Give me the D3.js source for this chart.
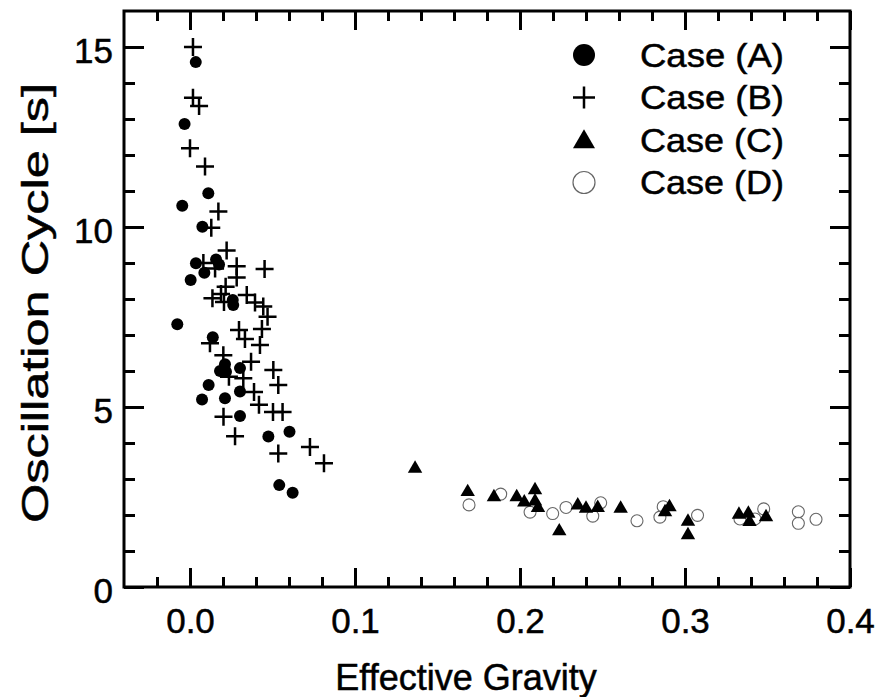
<!DOCTYPE html>
<html>
<head>
<meta charset="utf-8">
<script src="https://cdn.jsdelivr.net/npm/d3@7"></script>
<style>
body { margin: 0; background: #fff; }
text { font-family: "Liberation Sans", Arial, sans-serif; fill: #000; stroke: #000; stroke-width: 0.5px; }
</style>
</head>
<body>
<svg width="878" height="697"></svg>
<script>
var caseAx = [0.0035, -0.0033, 0.0111, -0.0047, 0.0075, 0.0036, 0.0158, 0.0176, 0.0087, 0.0004, 0.0259, 0.0262, -0.0077, 0.0138, 0.0212, 0.0182, 0.0218, 0.0303, 0.0113, 0.0073, 0.0212, 0.0303, 0.0303, 0.0475, 0.0603, 0.0541, 0.0622];
var caseAy = [14.58, 12.86, 10.94, 10.59, 10.01, 8.99, 9.10, 8.96, 8.73, 8.53, 7.97, 7.83, 7.30, 6.94, 6.19, 6.00, 5.98, 6.08, 5.61, 5.21, 5.24, 5.43, 4.75, 4.18, 4.31, 2.83, 2.62];

var caseBx = [0.0018, 0.0018, 0.0055, 0.0, 0.0091, 0.0172, 0.0129, 0.0222, 0.0081, 0.0152, 0.0283, 0.0283, 0.0452, 0.0216, 0.0136, 0.0188, 0.0206, 0.0344, 0.0394, 0.0444, 0.0470, 0.0297, 0.0333, 0.0436, 0.0424, 0.0121, 0.0202, 0.0370, 0.0505, 0.0236, 0.0323, 0.0535, 0.0388, 0.0418, 0.0503, 0.0561, 0.0203, 0.0273, 0.0535, 0.0727, 0.0812];
var caseBy = [15.0, 13.59, 13.36, 12.19, 11.68, 10.43, 9.98, 9.35, 9.0, 8.85, 8.91, 8.60, 8.83, 8.34, 8.02, 8.14, 7.92, 8.11, 7.90, 7.79, 7.51, 7.14, 6.89, 7.17, 6.72, 6.77, 6.44, 6.26, 6.03, 5.84, 5.80, 5.61, 5.42, 5.06, 4.86, 4.86, 4.73, 4.19, 3.71, 3.89, 3.44];

var caseCx = [0.1364, 0.1683, 0.1842, 0.1980, 0.2026, 0.2091, 0.2091, 0.2109, 0.2238, 0.2350, 0.2400, 0.2471, 0.2610, 0.2879, 0.2906, 0.3018, 0.3018, 0.3327, 0.3384, 0.3391, 0.3491];
var caseCy = [3.29, 2.64, 2.50, 2.50, 2.35, 2.69, 2.38, 2.20, 1.55, 2.27, 2.18, 2.20, 2.18, 2.08, 2.22, 1.82, 1.44, 2.01, 2.04, 1.81, 1.94];

var caseDx = [0.1691, 0.1883, 0.2061, 0.2198, 0.2279, 0.2441, 0.2489, 0.2709, 0.2848, 0.2868, 0.3076, 0.3333, 0.3424, 0.3477, 0.3687, 0.3687, 0.3794];
var caseDy = [2.28, 2.58, 2.08, 2.04, 2.21, 1.97, 2.34, 1.84, 1.94, 2.23, 1.99, 1.89, 1.89, 2.17, 2.09, 1.77, 1.88];

var legendLabels = ['Case (A)', 'Case (B)', 'Case (C)', 'Case (D)'];
var xMajor = [0, 0.1, 0.2, 0.3, 0.4];
var xMinor = [-0.02, 0.02, 0.04, 0.06, 0.08, 0.12, 0.14, 0.16, 0.18, 0.22, 0.24, 0.26, 0.28, 0.32, 0.34, 0.36, 0.38];
var yMajor = [0, 5, 10, 15];
var yMinor = [1, 2, 3, 4, 6, 7, 8, 9, 11, 12, 13, 14];

var mLeft = 124, mRight = 850, mTop = 11, mBottom = 587;
var svg = d3.select('svg');

var x = d3.scaleLinear().domain([-0.04, 0.4]).range([mLeft, mRight]);
var y = d3.scaleLinear().domain([0, 16]).range([mBottom, mTop]);

function zip(xs, ys) {
    return xs.map(function (v, i) { return { x: v, y: ys[i] }; });
}

function styleAxis(g) {
    g.select('.domain').remove();
    g.selectAll('line').attr('stroke', '#000').attr('stroke-width', 3);
    g.selectAll('text').style('font-size', '35px').style('font-family', '"Liberation Sans", Arial, sans-serif');
}

// bottom / top
svg.append('g').attr('transform', 'translate(0,' + mBottom + ')')
    .call(d3.axisBottom(x).tickValues(xMajor).tickSizeInner(-19).tickSizeOuter(0).tickPadding(21)
        .tickFormat(d3.format('.1f')))
    .call(styleAxis);
svg.append('g').attr('transform', 'translate(0,' + mBottom + ')')
    .call(d3.axisBottom(x).tickValues(xMinor).tickSizeInner(-10).tickSizeOuter(0).tickFormat(''))
    .call(styleAxis);
svg.append('g').attr('transform', 'translate(0,' + mTop + ')')
    .call(d3.axisTop(x).tickValues(xMajor).tickSizeInner(-19).tickSizeOuter(0).tickFormat(''))
    .call(styleAxis);
svg.append('g').attr('transform', 'translate(0,' + mTop + ')')
    .call(d3.axisTop(x).tickValues(xMinor).tickSizeInner(-10).tickSizeOuter(0).tickFormat(''))
    .call(styleAxis);

// left / right
svg.append('g').attr('transform', 'translate(' + mLeft + ',0)')
    .call(d3.axisLeft(y).tickValues(yMajor).tickSizeInner(-20).tickSizeOuter(0).tickPadding(11))
    .call(styleAxis)
    .selectAll('text').attr('dy', '0.45em');
svg.append('g').attr('transform', 'translate(' + mLeft + ',0)')
    .call(d3.axisLeft(y).tickValues(yMinor).tickSizeInner(-11).tickSizeOuter(0).tickFormat(''))
    .call(styleAxis);
svg.append('g').attr('transform', 'translate(' + mRight + ',0)')
    .call(d3.axisRight(y).tickValues(yMajor).tickSizeInner(-20).tickSizeOuter(0).tickFormat(''))
    .call(styleAxis);
svg.append('g').attr('transform', 'translate(' + mRight + ',0)')
    .call(d3.axisRight(y).tickValues(yMinor).tickSizeInner(-11).tickSizeOuter(0).tickFormat(''))
    .call(styleAxis);

svg.append('rect')
    .attr('x', mLeft).attr('y', mTop)
    .attr('width', mRight - mLeft).attr('height', mBottom - mTop)
    .attr('fill', 'none').attr('stroke', '#000').attr('stroke-width', 3);

// titles
svg.append('text')
    .attr('x', 466).attr('y', 690)
    .attr('text-anchor', 'middle')
    .style('font-size', '36px')
    .text('Effective Gravity');
svg.append('text')
    .attr('transform', 'translate(48,303) rotate(-90)')
    .attr('text-anchor', 'middle')
    .attr('textLength', 440).attr('lengthAdjust', 'spacingAndGlyphs')
    .style('font-size', '37px')
    .text('Oscillation Cycle [s]');

var tri = d3.symbol().type(d3.symbolTriangle).size(90);
var triBig = d3.symbol().type(d3.symbolTriangle).size(210);

function plusPath(h) {
    return 'M' + (-h) + ',0H' + h + 'M0,' + (-h) + 'V' + h;
}

var plot = svg.append('g');

plot.selectAll('.caseD').data(zip(caseDx, caseDy)).enter()
    .append('circle').attr('class', 'caseD')
    .attr('cx', function (d) { return x(d.x); })
    .attr('cy', function (d) { return y(d.y); })
    .attr('r', 6)
    .attr('fill', 'none').attr('stroke', '#666').attr('stroke-width', 1.1);

plot.selectAll('.caseC').data(zip(caseCx, caseCy)).enter()
    .append('path').attr('class', 'caseC')
    .attr('transform', function (d) { return 'translate(' + x(d.x) + ',' + y(d.y) + ')'; })
    .attr('d', tri)
    .attr('fill', '#000');

plot.selectAll('.caseA').data(zip(caseAx, caseAy)).enter()
    .append('circle').attr('class', 'caseA')
    .attr('cx', function (d) { return x(d.x); })
    .attr('cy', function (d) { return y(d.y); })
    .attr('r', 6)
    .attr('fill', '#000');

plot.selectAll('.caseB').data(zip(caseBx, caseBy)).enter()
    .append('path').attr('class', 'caseB')
    .attr('transform', function (d) { return 'translate(' + x(d.x) + ',' + y(d.y) + ')'; })
    .attr('d', plusPath(9))
    .attr('fill', 'none').attr('stroke', '#000').attr('stroke-width', 2.5);

// legend
var legend = svg.append('g').attr('transform', 'translate(584,55)');
var rows = legend.selectAll('g').data(legendLabels).enter()
    .append('g').attr('transform', function (d, i) { return 'translate(0,' + (i * 42.5) + ')'; });

rows.append('text')
    .attr('x', 56).attr('dy', '0.345em')
    .attr('textLength', 144).attr('lengthAdjust', 'spacingAndGlyphs')
    .style('font-size', '34px')
    .text(function (d) { return d; });

rows.each(function (d, i) {
    var g = d3.select(this);
    if (i === 0) g.append('circle').attr('r', 11).attr('fill', '#000');
    if (i === 1) g.append('path').attr('d', plusPath(11)).attr('stroke', '#000').attr('stroke-width', 2.5);
    if (i === 2) g.append('path').attr('d', triBig).attr('transform', 'translate(0,2)').attr('fill', '#000');
    if (i === 3) g.append('circle').attr('r', 11).attr('fill', 'none').attr('stroke', '#666').attr('stroke-width', 1.2);
});
</script>
</body>
</html>
